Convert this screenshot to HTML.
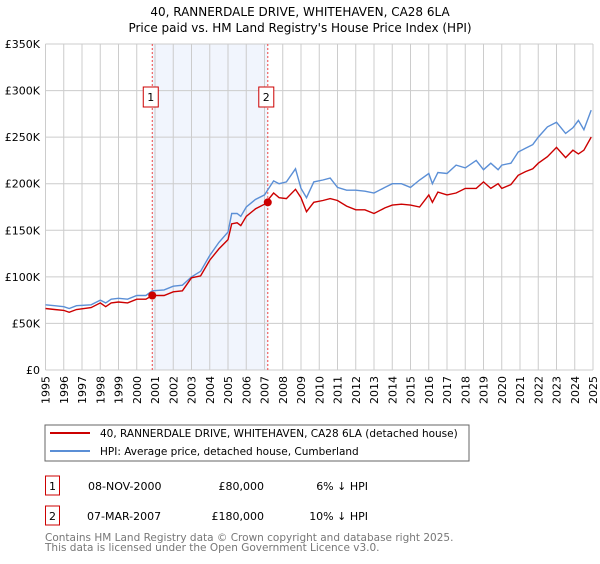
<!DOCTYPE html>
<html><head><meta charset="utf-8"><style>
body{margin:0;background:#fff;font-family:"DejaVu Sans","Liberation Sans",sans-serif;}
svg text{font-family:"DejaVu Sans","Liberation Sans",sans-serif;}
</style></head><body>
<svg id="c" width="600" height="560" xmlns="http://www.w3.org/2000/svg">
<text x="300" y="16" text-anchor="middle" font-size="12">40, RANNERDALE DRIVE, WHITEHAVEN, CA28 6LA</text>
<text x="300" y="32" text-anchor="middle" font-size="12">Price paid vs. HM Land Registry's House Price Index (HPI)</text>
<g id="grid"></g><g id="series"></g>
<rect x="45" y="425" width="424" height="36" fill="#fff" stroke="#666"/>
<line x1="50" y1="433" x2="90" y2="433" stroke="#cc0000" stroke-width="2"/>
<text x="100" y="437" font-size="10.5">40, RANNERDALE DRIVE, WHITEHAVEN, CA28 6LA (detached house)</text>
<line x1="50" y1="451" x2="90" y2="451" stroke="#5b8fd6" stroke-width="2"/>
<text x="100" y="455" font-size="10.5">HPI: Average price, detached house, Cumberland</text>
<g font-size="11">
<rect x="45.5" y="476" width="14" height="19" fill="#fff" stroke="#cc0000"/>
<text x="52.5" y="490" text-anchor="middle">1</text>
<text x="88" y="490">08-NOV-2000</text>
<text x="264" y="490" text-anchor="end">£80,000</text>
<text x="368" y="490" text-anchor="end">6% ↓ HPI</text></g>
<g font-size="11">
<rect x="45.5" y="506" width="14" height="19" fill="#fff" stroke="#cc0000"/>
<text x="52.5" y="520" text-anchor="middle">2</text>
<text x="87" y="520">07-MAR-2007</text>
<text x="264" y="520" text-anchor="end">£180,000</text>
<text x="368" y="520" text-anchor="end">10% ↓ HPI</text></g>
<text x="45" y="541" font-size="10.5" fill="#777">Contains HM Land Registry data © Crown copyright and database right 2025.</text>
<text x="45" y="551" font-size="10.5" fill="#777">This data is licensed under the Open Government Licence v3.0.</text>
</svg>
<script>
const years=[1995,1995.5,1996,1996.3,1996.7,1997.5,1998,1998.3,1998.6,1999,1999.5,2000,2000.5,2000.85,2001.5,2002,2002.5,2003,2003.5,2004,2004.5,2005,2005.2,2005.5,2005.7,2006,2006.5,2007,2007.5,2007.8,2008.2,2008.7,2009,2009.3,2009.7,2010.2,2010.6,2011,2011.5,2012,2012.5,2013,2013.6,2014,2014.5,2015,2015.5,2016,2016.2,2016.5,2017,2017.5,2018,2018.6,2019,2019.4,2019.8,2020,2020.5,2020.9,2021.3,2021.7,2022,2022.5,2023,2023.5,2023.9,2024.2,2024.5,2024.9];
const hpiValues=[70,69,68,66,69,70,75,72,76,77,76,80,80,85,86,90,91,100,106,123,137,148,168,168,165,175,183,188,203,200,202,216,195,185,202,204,206,196,193,193,192,190,196,200,200,196,204,211,200,212,211,220,217,225,215,222,215,220,222,234,238,242,250,261,266,254,260,268,258,279];
const priceValues=[66,65,64,62,65,67,72,68,72,73,72,76,76,80,80,84,85,99,101,118,130,140,157,158,155,165,173,178,190,185,184,194,185,170,180,182,184,182,176,172,172,168,174,177,178,177,175,188,180,191,188,190,195,195,202,195,200,195,199,209,213,216,222,229,239,228,236,232,236,250];
const saleYears=[2000.85,2007.18];
const saleValues=[80,180];
const saleLabels=["1","2"];
const yTicks=[0,50,100,150,200,250,300,350];
const yTickLabels=["£0","£50K","£100K","£150K","£200K","£250K","£300K","£350K"];
const xTicks=[];for(let y=1995;y<=2025;y++)xTicks.push(y);

const NS="http://www.w3.org/2000/svg";
const X0=45.5,X1=593,Y0=370,Y1=44;
const xs=v=>X0+(v-1995)/30*(X1-X0);
const ys=v=>Y0-v/350*(Y0-Y1);
function mk(t,a,p){const e=document.createElementNS(NS,t);for(const k in a)e.setAttribute(k,a[k]);p.appendChild(e);return e;}
const g=document.getElementById('grid'),s=document.getElementById('series');
const sh=mk('rect',{x:xs(saleYears[0]),y:Y1,width:xs(saleYears[1])-xs(saleYears[0]),height:Y0-Y1,fill:'#eef3fc',opacity:0.8},g);


xTicks.forEach(t=>{const l=mk('line',{x1:xs(t),x2:xs(t),y1:Y1,y2:Y0,stroke:'#cccccc'},g);


const tx=mk('text',{x:0,y:0,'font-size':11,'text-anchor':'end',transform:`translate(${xs(t)+4},${Y0+6}) rotate(-90)`},g);tx.textContent=t;

});
yTicks.forEach((t,i)=>{const l=mk('line',{x1:X0,x2:X1,y1:ys(t),y2:ys(t),stroke:'#cccccc'},g);


const tx=mk('text',{x:40,y:ys(t)+4,'font-size':11,'text-anchor':'end'},g);tx.textContent=yTickLabels[i];

});
saleYears.forEach((y,i)=>{const l=mk('line',{x1:xs(y),x2:xs(y),y1:Y1,y2:Y0,stroke:'#ee4444','stroke-dasharray':'2,2'},g);


const r=mk('rect',{x:xs(y)-9,y:Y1+43,width:15,height:20,fill:'#fff',stroke:'#cc0000'},g);


const t=mk('text',{x:xs(y)-1.5,y:Y1+57,'font-size':11,'text-anchor':'middle'},g);t.textContent=saleLabels[i];

});
const pts=v=>years.map((y,i)=>xs(y).toFixed(1)+','+ys(v[i]).toFixed(1)).join(' ');
const hl=mk('polyline',{points:pts(hpiValues),fill:'none',stroke:'#5b8fd6','stroke-width':1.4},s);


const pl=mk('polyline',{points:pts(priceValues),fill:'none',stroke:'#cc0000','stroke-width':1.4},s);


saleYears.forEach((y,i)=>{const c=mk('circle',{cx:xs(y),cy:ys(saleValues[i]),r:4,fill:'#cc0000'},s);

});
</script>
</body></html>
